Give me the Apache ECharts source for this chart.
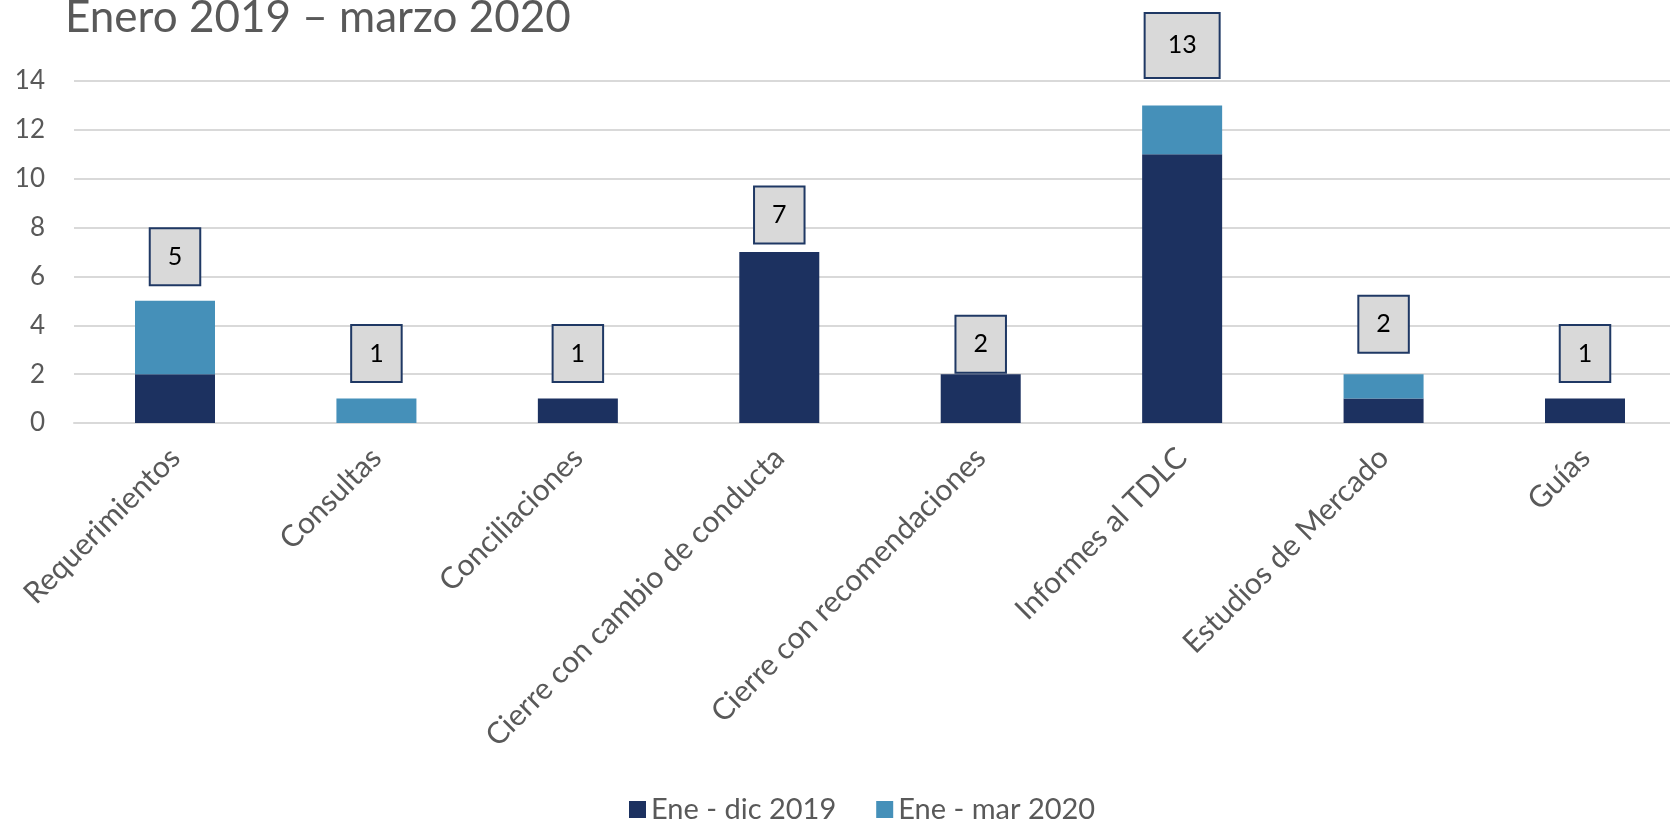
<!DOCTYPE html>
<html>
<head>
<meta charset="utf-8">
<script src="https://cdn.jsdelivr.net/npm/echarts@6/dist/echarts.min.js"></script>
<style>
  html, body { margin: 0; padding: 0; background: #ffffff; }
  #chart { width: 1670px; height: 819px; }
</style>
</head>
<body>
<div id="chart"></div>
<script>
const titleText = 'Enero 2019 – marzo 2020';
const categories = ['Requerimientos', 'Consultas', 'Conciliaciones', 'Cierre con cambio de conducta', 'Cierre con recomendaciones', 'Informes al TDLC', 'Estudios de Mercado', 'Guías'];
const seriesNames = ['Ene - dic 2019', 'Ene - mar 2020'];
const values2019 = [2, 0, 1, 7, 2, 11, 1, 1];
const values2020 = [3, 1, 0, 0, 0, 2, 1, 0];
const totals = [5, 1, 1, 7, 2, 13, 2, 1];
const yTicks = { min: 0, max: 14, interval: 2 };

// label box gaps above each bar (styling, px)
const labelGaps = [16, 17, 17, 9, 2, 28, 22, 17];

const FONT = 'Lato, "Noto Sans", sans-serif';
const GREY = '#595959';

const totalData = totals.map(function (v, i) {
  const lab = { distance: labelGaps[i] };
  if (String(v).length > 1) {
    lab.padding = [19, 22, 19, 22];
  }
  return { value: v, label: lab };
});

const chart = echarts.init(document.getElementById('chart'), null, { renderer: 'canvas' });
chart.setOption({
  backgroundColor: '#ffffff',
  animation: false,
  title: {
    text: titleText,
    left: 60,
    top: -9,
    textStyle: { fontFamily: FONT, fontSize: 44, fontWeight: 'normal', color: GREY }
  },
  legend: {
    data: seriesNames,
    left: 624,
    top: 790,
    itemWidth: 17,
    itemHeight: 17,
    itemGap: 40,
    icon: 'rect',
    textStyle: { fontFamily: FONT, fontSize: 29, color: GREY }
  },
  grid: [
    { left: 74, right: 0, top: 81, bottom: 396, containLabel: false },
    { left: 175, right: 85, top: 81, bottom: 396, containLabel: false }
  ],
  xAxis: [
    {
      type: 'category',
      gridIndex: 0,
      data: categories,
      axisLine: { show: true, lineStyle: { color: '#d9d9d9', width: 2 } },
      axisTick: { show: false },
      axisLabel: { show: false },
      splitLine: { show: false }
    },
    {
      type: 'category',
      gridIndex: 1,
      data: categories,
      boundaryGap: false,
      axisLine: { show: false },
      axisTick: { show: false },
      splitLine: { show: false },
      axisLabel: {
        rotate: 45,
        interval: 0,
        margin: 30,
        fontFamily: FONT,
        fontSize: 30,
        color: GREY
      }
    }
  ],
  yAxis: [
    {
      type: 'value',
      gridIndex: 0,
      min: yTicks.min,
      max: yTicks.max,
      interval: yTicks.interval,
      axisLine: { show: false },
      axisTick: { show: false },
      axisLabel: { margin: 29, fontFamily: FONT, fontSize: 26, color: GREY },
      splitLine: { lineStyle: { color: '#d9d9d9', width: 2 } }
    },
    {
      type: 'value',
      gridIndex: 1,
      min: yTicks.min,
      max: yTicks.max,
      interval: yTicks.interval,
      show: false,
      splitLine: { show: false }
    }
  ],
  series: [
    {
      name: seriesNames[0],
      type: 'bar',
      xAxisIndex: 1,
      yAxisIndex: 1,
      stack: 'total',
      barWidth: 80,
      data: values2019,
      itemStyle: { color: '#1c3160' }
    },
    {
      name: seriesNames[1],
      type: 'bar',
      xAxisIndex: 1,
      yAxisIndex: 1,
      stack: 'total',
      barWidth: 80,
      data: values2020,
      itemStyle: { color: '#4590b9' }
    },
    {
      name: 'Total',
      type: 'line',
      xAxisIndex: 1,
      yAxisIndex: 1,
      data: totalData,
      symbol: 'circle',
      symbolSize: 1,
      itemStyle: { color: 'rgba(0,0,0,0)' },
      lineStyle: { width: 0, color: 'rgba(0,0,0,0)' },
      silent: true,
      z: 10,
      label: {
        show: true,
        position: 'top',
        distance: 17,
        fontFamily: FONT,
        fontSize: 25,
        lineHeight: 25,
        color: '#000000',
        backgroundColor: '#d9d9d9',
        borderColor: '#1f3864',
        borderWidth: 2,
        padding: [15, 17, 15, 17]
      }
    }
  ]
});
</script>
</body>
</html>
